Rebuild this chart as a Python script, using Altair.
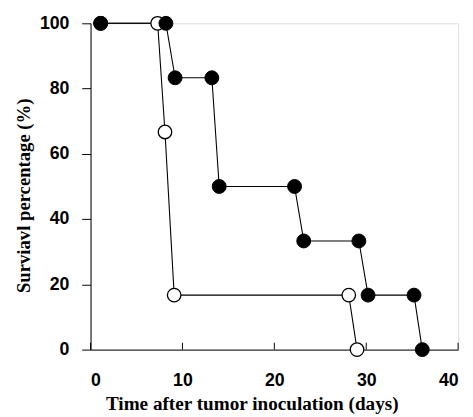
import altair as alt
import pandas as pd

# Filled circles series
filled_day = [1.1, 8.2, 9.2, 13.2, 14.0, 22.2, 23.2, 29.2, 30.2, 35.2, 36.1]
filled_pct = [100, 100, 83.3, 83.3, 50, 50, 33.3, 33.3, 16.7, 16.7, 0]
# Open circles series
open_day = [1.1, 7.3, 8.1, 9.1, 28.1, 29.0]
open_pct = [100, 100, 66.7, 16.7, 16.7, 0]

x_ticks = [0, 10, 20, 30, 40]
y_ticks = [0, 20, 40, 60, 80, 100]

df_f = pd.DataFrame({"day": filled_day, "pct": filled_pct, "order": range(len(filled_day))})
df_o = pd.DataFrame({"day": open_day, "pct": open_pct, "order": range(len(open_day))})
df_t = pd.DataFrame({"tick": x_ticks})

W, H = 374, 332

xs = alt.Scale(domain=[0, 40], nice=False, zero=False)
ys = alt.Scale(domain=[0, 100], nice=False)

x_axis = alt.Axis(values=x_ticks, ticks=False, labelPadding=23, domainColor="black",
                  labelFont="Liberation Sans", labelFontWeight="bold", labelFontSize=18,
                  labelColor="black", title="Time after tumor inoculation (days)",
                  titleFont="Liberation Serif", titleFontWeight="bold", titleFontSize=19.5,
                  titleColor="black", titleX=164, titleY=61, titleBaseline="alphabetic",
                  grid=False)
y_axis = alt.Axis(values=y_ticks, tickSize=9, tickColor="black", labelPadding=13,
                  domainColor="black", labelFont="Liberation Sans", labelFontWeight="bold",
                  labelFontSize=18, labelColor="black", title="Surviavl percentage (%)",
                  titleFont="Liberation Serif", titleFontWeight="bold", titleFontSize=19,
                  titleColor="black", titleX=-68, titleY=175, titleBaseline="middle",
                  titleAngle=-90, grid=False)

base_x = alt.X("day:Q", scale=xs, axis=x_axis)
base_y = alt.Y("pct:Q", scale=ys, axis=y_axis)

line_o = alt.Chart(df_o).mark_line(color="black", strokeWidth=1.1).encode(
    x=base_x, y=base_y, order="order:Q")
line_f = alt.Chart(df_f).mark_line(color="black", strokeWidth=1.1).encode(
    x=base_x, y=base_y, order="order:Q")
pts_o = alt.Chart(df_o).mark_point(shape="circle", filled=True, fill="white",
                                   stroke="black", strokeWidth=1.3, size=190, opacity=1).encode(
    x=base_x, y=base_y)
pts_f = alt.Chart(df_f).mark_point(shape="circle", filled=True, fill="black",
                                   stroke="black", strokeWidth=1, size=200, opacity=1).encode(
    x=base_x, y=base_y)
ticks = alt.Chart(df_t).mark_rule(color="black", strokeWidth=1).encode(
    x=alt.X("tick:Q", scale=xs), y=alt.value(H), y2=alt.value(H - 7))

chart = alt.layer(ticks, line_o, line_f, pts_o, pts_f).properties(
    width=W, height=H,
    autosize=alt.AutoSizeParams(type="none"),
    padding={"left": 84, "top": 12, "right": 7, "bottom": 66},
).configure_view(stroke=None).configure(background="white")

chart.save("out.html", embed_options={"renderer": "svg", "actions": False})
